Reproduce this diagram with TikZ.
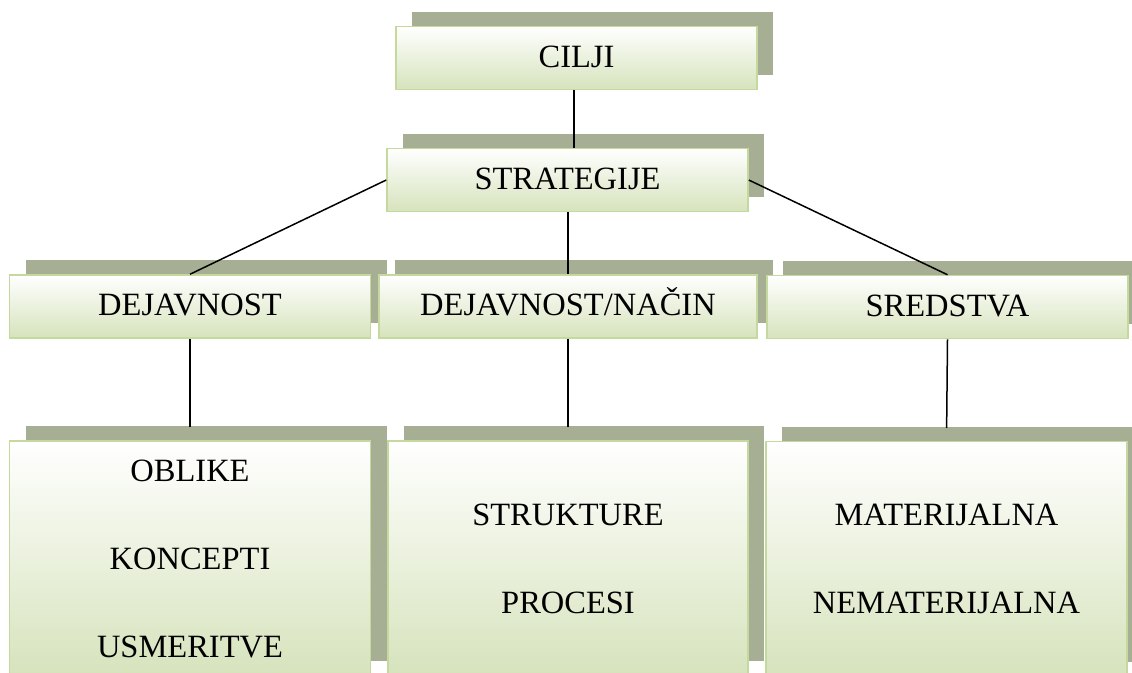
\documentclass[tikz,border=0pt]{standalone}
\usepackage{fontspec}
\setmainfont{Liberation Serif}
\usepackage{tikz}
\usetikzlibrary{calc,positioning,shadows}
\definecolor{shadowgreen}{HTML}{A6AF94}
\definecolor{edgegreen}{HTML}{C5D99F}
\definecolor{fillgreen}{HTML}{D6E3BC}
\tikzset{
    boxbase/.style={
        rectangle,
        draw=edgegreen, line width=1.5pt,
        top color=white,
        bottom color=fillgreen,
        inner sep=0pt,
        text centered,
        drop shadow={shadow xshift=16pt, shadow yshift=15pt,
            fill=shadowgreen, opacity=1},
    },
    topbox/.style={boxbase,
        minimum width=361pt,
        minimum height=63pt,
        text height=22pt, text depth=3.5pt,
        font={\fontsize{32.5pt}{36}\selectfont},
    },
    lowbox/.style={boxbase,
        minimum width=361pt,
        minimum height=235pt,
        align=center,
        font={\fontsize{32.5pt}{88}\selectfont},
    },
    link/.style={draw, line width=1.5pt},
}
\begin{document}
\begin{tikzpicture}[x=1pt, y=-1pt]
\useasboundingbox (0,0) rectangle (1132,672);
\node[topbox] (cilji) at (576.5,58){CILJI};
\node[topbox] (strat) at (567.5,180){STRATEGIJE};
\node[topbox] (dej) at (190,306.5){DEJAVNOST};
\node[topbox, minimum width=378pt] (nacin) at (568,306.5){DEJAVNOST/NAČIN};
\node[topbox] (sred) at (947.5,307){SREDSTVA};
\node[lowbox] (oblike) at (190,558.5){OBLIKE\\KONCEPTI\\USMERITVE};
\node[lowbox, minimum width=360pt] (strukt) at (568,558.5){STRUKTURE\\PROCESI};
\node[lowbox] (mater) at (946.5,559){MATERIJALNA\\NEMATERIJALNA};
\draw[link] (cilji.south -| 574,0) -- (strat.north -| 574,0);
\draw[link] (strat.west) -- (dej.north);
\draw[link] (strat.south -| nacin.north) -- (nacin.north);
\draw[link] (strat.east) -- (sred.north);
\draw[link, shorten >=13pt] (dej.south) -- (oblike.north);
\draw[link, shorten >=13pt] (nacin.south) -- (strukt.north);
\draw[link, shorten >=13pt] (sred.south) -- (mater.north);
\end{tikzpicture}
\end{document}
